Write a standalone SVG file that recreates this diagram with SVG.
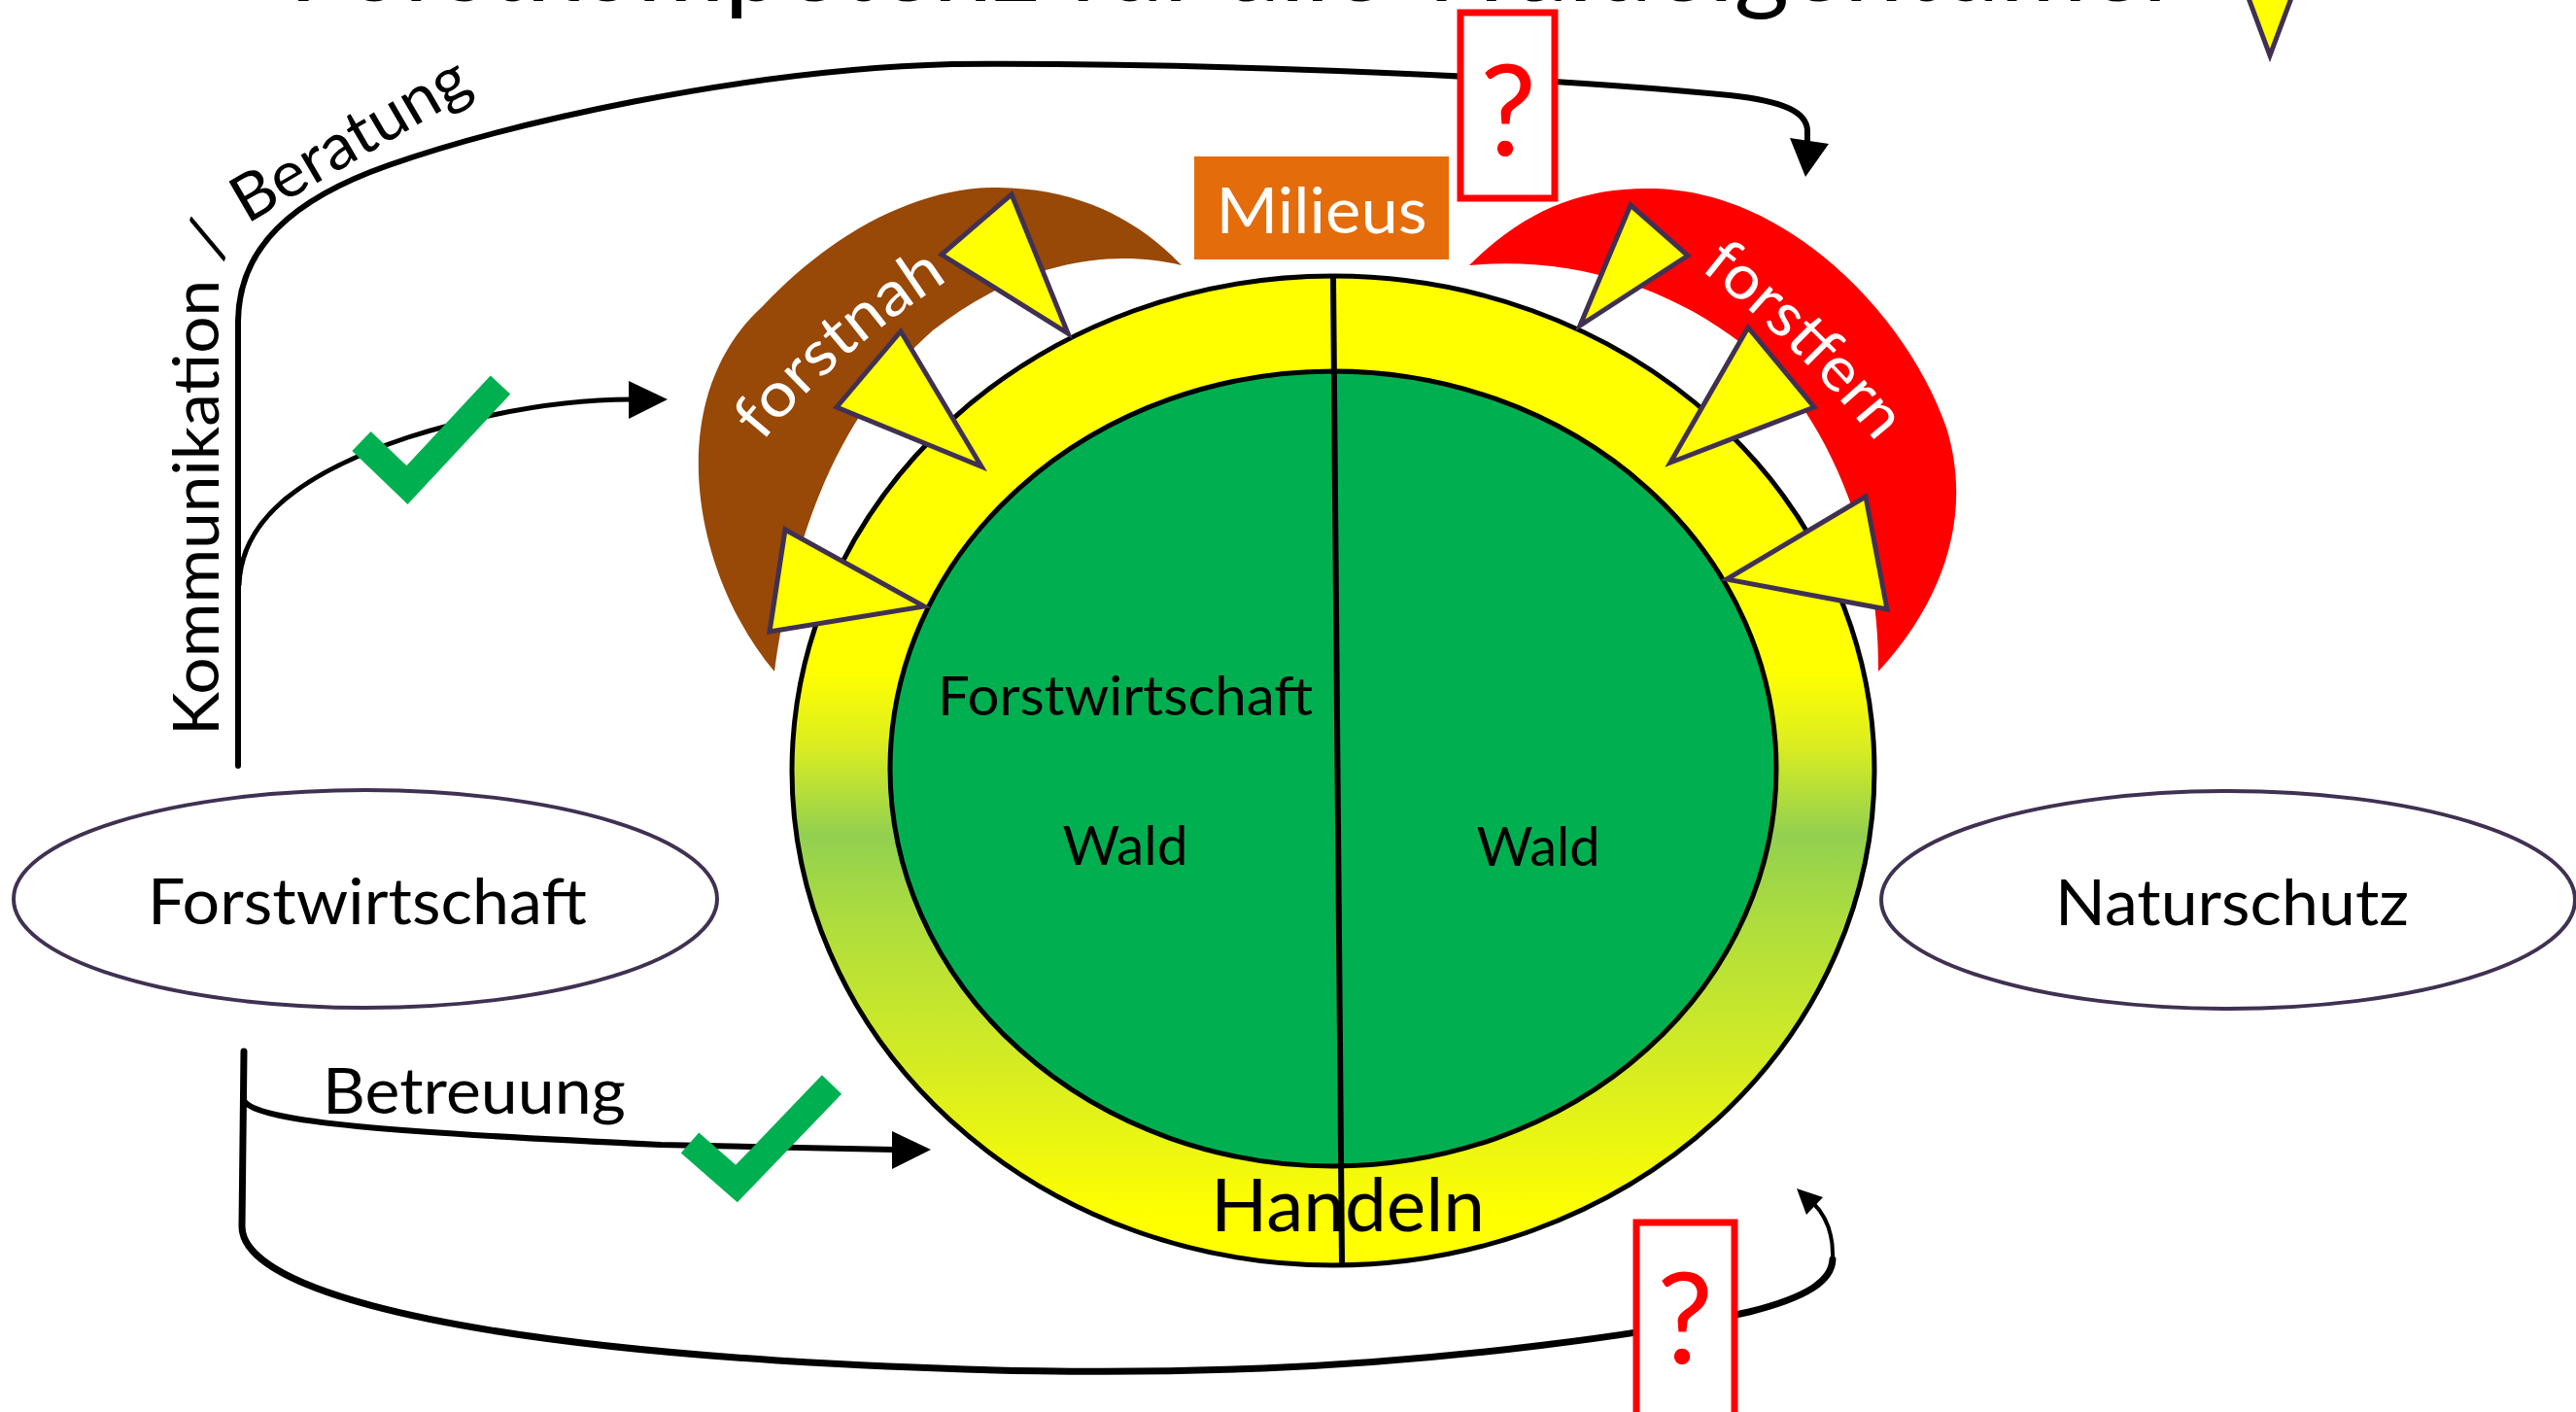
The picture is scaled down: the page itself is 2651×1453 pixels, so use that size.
<svg xmlns="http://www.w3.org/2000/svg" width="2651" height="1453" viewBox="0 0 2651 1453">
<defs>
<linearGradient id="ringGrad" x1="0" y1="0" x2="0" y2="1">
 <stop offset="0" stop-color="#FFFF00"/>
 <stop offset="0.40" stop-color="#FFFF00"/>
 <stop offset="0.47" stop-color="#DDEE1E"/>
 <stop offset="0.565" stop-color="#92D050"/>
 <stop offset="0.66" stop-color="#B0DE3C"/>
 <stop offset="0.80" stop-color="#D6EC22"/>
 <stop offset="0.95" stop-color="#FFFF00"/>
 <stop offset="1" stop-color="#FFFF00"/>
</linearGradient>
<path id="kbPath" d="M225,757 L225,292 Q226,250 262,226 L540,64"/>
<path id="nahPath" d="M782,458 Q865,355 1005,270"/>
<path id="fernPath" d="M1748,276 Q1850,355 1933,458"/>
</defs>
<style>
 text { font-family: Lato, "Open Sans", "Liberation Sans", sans-serif; }
 .lbl { fill:#000; font-size:66px; }
 .wh { fill:#fff; font-size:64px; }
 .conn { fill:none; stroke:#000; stroke-linecap:round; stroke-linejoin:round; }
 .head { fill:#000; }
 .tri { fill:#FFFF00; stroke:#403152; stroke-width:5; stroke-linejoin:miter; }
 .node { fill:#fff; stroke:#403152; stroke-width:4; }
 .qbox { fill:#fff; stroke:#FF0000; stroke-width:7; }
 .q { fill:#FF0000; font-size:130px; }
 .check { fill:none; stroke:#00B050; stroke-width:28; stroke-linejoin:miter; stroke-miterlimit:10; }
</style>
<rect width="2651" height="1453" fill="#fff"/>

<g id="title">
 <text x="297" y="1" font-size="104" fill="#000" textLength="1948" lengthAdjust="spacingAndGlyphs">Forstkompetenz für alle Waldeigentümer</text>
</g>
<g id="legend-triangle">
 <polygon class="tri" points="2311,-10 2361,-10 2336,57"/>
</g>

<g id="forstnah">
 <path fill="#984807" d="M797,691 C712,590 680,410 785,315 C860,235 950,192 1027,193 C1110,194 1170,225 1216,273 C1140,255 1050,270 960,340 C880,410 820,520 797,691 Z"/>
</g>
<g id="forstfern">
 <path fill="#FF0000" d="M1512,273 C1570,215 1630,192 1703,194 C1845,198 1965,330 2003,440 C2028,520 2008,610 1933,691 C1934,590 1905,490 1850,412 C1780,320 1650,260 1512,273 Z"/>
</g>

<g id="connectors">
 <path class="conn" stroke-width="6" d="M245,788 L245,330 C246,255 300,205 400,170 C520,128 760,72 980,66 C1250,64 1600,80 1780,98 C1835,104 1860,115 1860,135 L1860,146"/>
 <polygon class="head" points="1842,142 1882,148 1858,182"/>
 <path class="conn" stroke-width="5" d="M246,602 C248,540 300,490 420,450 C500,425 580,411 650,411"/>
 <polygon class="head" points="647,392 647,431 687,411"/>
 <path class="conn" stroke-width="6" d="M252,1134 C270,1155 400,1165 680,1178 L920,1183"/>
 <polygon class="head" points="918,1164 918,1203 958,1183"/>
 <path class="conn" stroke-width="7" d="M251,1082 L249,1262 C249,1320 420,1375 800,1400 C1000,1412 1150,1414 1300,1408 C1500,1400 1700,1372 1800,1350 C1860,1335 1885,1318 1886,1296"/>
 <path class="conn" stroke-width="4" d="M1886,1296 C1887,1272 1880,1252 1866,1238"/>
 <polygon class="head" points="1849,1223 1859,1250 1876,1232"/>
 <text class="lbl"><textPath href="#kbPath" textLength="806" lengthAdjust="spacingAndGlyphs">Kommunikation / Beratung</textPath></text>
 <text class="lbl" x="332" y="1146" textLength="312" lengthAdjust="spacingAndGlyphs">Betreuung</text>
</g>

<g id="ring">
 <ellipse cx="1372" cy="793" rx="557" ry="509" fill="url(#ringGrad)" stroke="#000" stroke-width="5"/>
 <ellipse cx="1372" cy="791" rx="456" ry="409" fill="#00B050" stroke="#000" stroke-width="5"/>
 <line x1="1372" y1="284" x2="1381" y2="1302" stroke="#000" stroke-width="6"/>
 <text class="lbl" x="1158" y="736" text-anchor="middle" style="font-size:56px" textLength="386" lengthAdjust="spacingAndGlyphs">Forstwirtschaft</text>
 <text class="lbl" x="1158" y="890" text-anchor="middle" style="font-size:56px" textLength="129" lengthAdjust="spacingAndGlyphs">Wald</text>
 <text class="lbl" x="1583" y="891" text-anchor="middle" style="font-size:56px" textLength="127" lengthAdjust="spacingAndGlyphs">Wald</text>
 <text class="lbl" x="1387" y="1267" text-anchor="middle" style="font-size:76px" textLength="282" lengthAdjust="spacingAndGlyphs">Handeln</text>
</g>

<g id="triangles">
 <polygon class="tri" points="969,262 1041,200 1099,343"/>
 <polygon class="tri" points="861,419 927,341 1010,480"/>
 <polygon class="tri" points="808,545 792,650 951,624"/>
 <polygon class="tri" points="1678,211 1737,263 1626,335"/>
 <polygon class="tri" points="1799,337 1867,419 1719,476"/>
 <polygon class="tri" points="1920,511 1942,627 1777,596"/>
</g>

<g id="crescent-labels">
 <text class="wh"><textPath href="#nahPath" startOffset="4" textLength="255" lengthAdjust="spacingAndGlyphs">forstnah</textPath></text>
 <text class="wh"><textPath href="#fernPath" startOffset="2" textLength="255" lengthAdjust="spacingAndGlyphs">forstfern</textPath></text>
</g>

<g id="milieus">
 <rect x="1229" y="161" width="262" height="106" fill="#E46C0A"/>
 <text x="1360" y="240" text-anchor="middle" fill="#fff" font-size="66" textLength="217" lengthAdjust="spacingAndGlyphs">Milieus</text>
</g>

<g id="question-top">
 <rect class="qbox" x="1503" y="13" width="97" height="191"/>
 <text class="q" x="1552" y="160" text-anchor="middle">?</text>
</g>
<g id="question-bottom">
 <rect class="qbox" x="1684" y="1258" width="101" height="205"/>
 <text class="q" x="1734" y="1403" text-anchor="middle">?</text>
</g>

<g id="check-top">
 <polyline class="check" points="372,454 419,499 515,396"/>
</g>
<g id="check-bottom">
 <polyline class="check" points="710,1176 758,1218 856,1116"/>
</g>

<g id="node-forstwirtschaft">
 <ellipse class="node" cx="376" cy="925" rx="362" ry="112"/>
 <text class="lbl" x="378" y="951" text-anchor="middle" textLength="452" lengthAdjust="spacingAndGlyphs">Forstwirtschaft</text>
</g>
<g id="node-naturschutz">
 <ellipse class="node" cx="2293" cy="926" rx="357" ry="112"/>
 <text class="lbl" x="2297" y="952" text-anchor="middle" textLength="364" lengthAdjust="spacingAndGlyphs">Naturschutz</text>
</g>
</svg>
